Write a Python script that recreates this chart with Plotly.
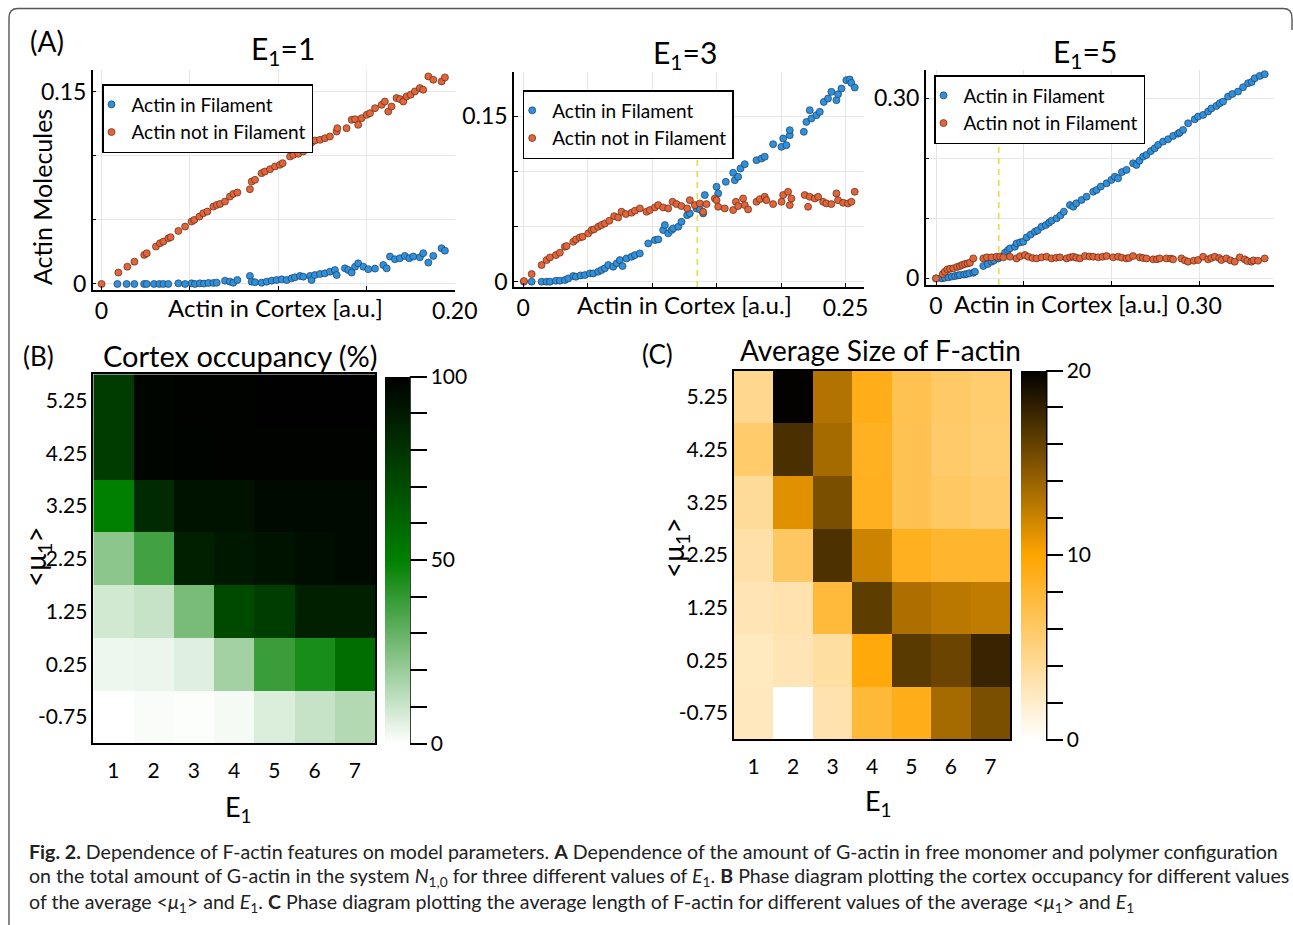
import plotly.graph_objects as go

W, H = 1293, 925
FONT = "Lato"

# ---------------- Panel A data ----------------
# E1 = 1
e1_fil_x = [0.0090, 0.0142, 0.0186, 0.0241, 0.0256, 0.0297, 0.0327, 0.0350, 0.0378, 0.0435, 0.0473, 0.0510,
            0.0529, 0.0557, 0.0580, 0.0605, 0.0633, 0.0652, 0.0699, 0.0727, 0.0746, 0.0769, 0.0840, 0.0850,
            0.0869, 0.0906, 0.0935, 0.0963, 0.0991, 0.1020, 0.1048, 0.1076, 0.1095, 0.1123, 0.1142, 0.1180,
            0.1189, 0.1208, 0.1237, 0.1265, 0.1293, 0.1321, 0.1331, 0.1378, 0.1397, 0.1416, 0.1435, 0.1453,
            0.1482, 0.1510, 0.1548, 0.1595, 0.1614, 0.1633, 0.1661, 0.1689, 0.1717, 0.1742, 0.1765, 0.1802,
            0.1821, 0.1850, 0.1878, 0.1925, 0.1944]
e1_fil_y = [0.0000, 0.0000, 0.0000, 0.0000, 0.0000, 0.0000, 0.0000, 0.0000, 0.0000, 0.0005, 0.0000, 0.0005,
            0.0000, 0.0005, 0.0003, 0.0008, 0.0008, 0.0010, 0.0026, 0.0018, 0.0010, 0.0031, 0.0063, 0.0018,
            0.0013, 0.0010, 0.0018, 0.0026, 0.0031, 0.0036, 0.0031, 0.0044, 0.0052, 0.0063, 0.0057, 0.0063,
            0.0031, 0.0070, 0.0078, 0.0083, 0.0096, 0.0109, 0.0070, 0.0122, 0.0109, 0.0089, 0.0135, 0.0161,
            0.0135, 0.0115, 0.0120, 0.0148, 0.0122, 0.0214, 0.0193, 0.0201, 0.0219, 0.0201, 0.0214, 0.0208,
            0.0240, 0.0167, 0.0219, 0.0279, 0.0260]
e1_free_x = [0.0000, 0.0095, 0.0146, 0.0186, 0.0242, 0.0256, 0.0308, 0.0331, 0.0350, 0.0378, 0.0391, 0.0435,
             0.0473, 0.0510, 0.0525, 0.0554, 0.0576, 0.0599, 0.0633, 0.0652, 0.0671, 0.0699, 0.0727, 0.0746,
             0.0769, 0.0840, 0.0850, 0.0869, 0.0906, 0.0925, 0.0954, 0.0982, 0.1010, 0.1025, 0.1067, 0.1086,
             0.1114, 0.1142, 0.1171, 0.1189, 0.1208, 0.1237, 0.1265, 0.1293, 0.1331, 0.1335, 0.1387, 0.1416,
             0.1435, 0.1453, 0.1472, 0.1501, 0.1520, 0.1548, 0.1586, 0.1604, 0.1623, 0.1642, 0.1670, 0.1689,
             0.1708, 0.1727, 0.1750, 0.1774, 0.1802, 0.1821, 0.1850, 0.1878, 0.1925, 0.1944]
e1_free_y = [0.0000, 0.0089, 0.0135, 0.0174, 0.0227, 0.0240, 0.0292, 0.0318, 0.0331, 0.0357, 0.0365, 0.0414,
             0.0448, 0.0487, 0.0500, 0.0526, 0.0552, 0.0565, 0.0604, 0.0617, 0.0625, 0.0643, 0.0682, 0.0703,
             0.0714, 0.0740, 0.0799, 0.0813, 0.0865, 0.0878, 0.0896, 0.0917, 0.0930, 0.0943, 0.0995, 0.1008,
             0.1016, 0.1034, 0.1060, 0.1104, 0.1120, 0.1125, 0.1138, 0.1151, 0.1190, 0.1216, 0.1216, 0.1281,
             0.1286, 0.1242, 0.1294, 0.1320, 0.1333, 0.1372, 0.1398, 0.1424, 0.1346, 0.1385, 0.1451, 0.1443,
             0.1424, 0.1464, 0.1477, 0.1503, 0.1529, 0.1516, 0.1620, 0.1594, 0.1581, 0.1612]

# E1 = 3
e3_fil_x = [0.0005, 0.0065, 0.0142, 0.0181, 0.0207, 0.0253, 0.0284, 0.0323, 0.0349, 0.0388, 0.0408, 0.0444,
            0.0478, 0.0517, 0.0543, 0.0581, 0.0607, 0.0633, 0.0659, 0.0698, 0.0724, 0.0749, 0.0770, 0.0801,
            0.0840, 0.0866, 0.0904, 0.0969, 0.1021, 0.1047, 0.1085, 0.1098, 0.1124, 0.1150, 0.1163, 0.1202,
            0.1227, 0.1271, 0.1292, 0.1344, 0.1370, 0.1395, 0.1408, 0.1499, 0.1512, 0.1571, 0.1628, 0.1641,
            0.1667, 0.1685, 0.1718, 0.1809, 0.1848, 0.1873, 0.1938, 0.2003, 0.2016, 0.2041, 0.2067, 0.2067,
            0.2176, 0.2196, 0.2222, 0.2235, 0.2274, 0.2300, 0.2331, 0.2364, 0.2390, 0.2429, 0.2442, 0.2468,
            0.2506, 0.2532, 0.2545, 0.2571]
e3_fil_y = [0.0000, 0.0000, 0.0000, 0.0000, 0.0000, 0.0009, 0.0009, 0.0015, 0.0030, 0.0051, 0.0045, 0.0057,
            0.0060, 0.0075, 0.0075, 0.0091, 0.0106, 0.0121, 0.0151, 0.0136, 0.0166, 0.0196, 0.0142, 0.0211,
            0.0226, 0.0241, 0.0256, 0.0347, 0.0377, 0.0383, 0.0468, 0.0513, 0.0438, 0.0468, 0.0483, 0.0498,
            0.0543, 0.0603, 0.0619, 0.0664, 0.0655, 0.0619, 0.0785, 0.0860, 0.0800, 0.0905, 0.0987, 0.0920,
            0.0951, 0.1026, 0.1065, 0.1101, 0.1116, 0.1132, 0.1246, 0.1222, 0.1298, 0.1237, 0.1328, 0.1373,
            0.1358, 0.1448, 0.1554, 0.1479, 0.1509, 0.1539, 0.1629, 0.1660, 0.1720, 0.1645, 0.1699, 0.1750,
            0.1826, 0.1832, 0.1801, 0.1759]
e3_free_x = [0.0005, 0.0065, 0.0142, 0.0181, 0.0207, 0.0253, 0.0284, 0.0323, 0.0336, 0.0388, 0.0408, 0.0439,
             0.0460, 0.0504, 0.0530, 0.0548, 0.0581, 0.0607, 0.0633, 0.0667, 0.0705, 0.0736, 0.0762, 0.0796,
             0.0840, 0.0866, 0.0904, 0.0956, 0.0982, 0.1021, 0.1047, 0.1085, 0.1124, 0.1158, 0.1189, 0.1227,
             0.1271, 0.1292, 0.1331, 0.1370, 0.1395, 0.1421, 0.1486, 0.1499, 0.1512, 0.1563, 0.1628, 0.1649,
             0.1667, 0.1705, 0.1718, 0.1744, 0.1809, 0.1835, 0.1873, 0.1886, 0.1938, 0.2003, 0.2016, 0.2054,
             0.2067, 0.2080, 0.2183, 0.2209, 0.2222, 0.2261, 0.2287, 0.2326, 0.2351, 0.2390, 0.2429, 0.2442,
             0.2481, 0.2519, 0.2545, 0.2571]
e3_free_y = [0.0006, 0.0069, 0.0151, 0.0196, 0.0220, 0.0241, 0.0263, 0.0317, 0.0323, 0.0362, 0.0383, 0.0401,
             0.0407, 0.0438, 0.0468, 0.0474, 0.0498, 0.0513, 0.0528, 0.0552, 0.0594, 0.0582, 0.0634, 0.0613,
             0.0625, 0.0643, 0.0664, 0.0634, 0.0649, 0.0673, 0.0694, 0.0673, 0.0664, 0.0724, 0.0703, 0.0685,
             0.0664, 0.0739, 0.0694, 0.0709, 0.0634, 0.0703, 0.0754, 0.0739, 0.0679, 0.0664, 0.0649, 0.0724,
             0.0685, 0.0754, 0.0694, 0.0655, 0.0724, 0.0748, 0.0769, 0.0739, 0.0703, 0.0724, 0.0785, 0.0815,
             0.0694, 0.0754, 0.0785, 0.0679, 0.0769, 0.0754, 0.0769, 0.0724, 0.0709, 0.0703, 0.0800, 0.0739,
             0.0715, 0.0709, 0.0724, 0.0815]
e3_threshold_x = 0.135
e3_threshold_top = 0.126

# E1 = 5
e5_fil_x = [0.0000, 0.0065, 0.0100, 0.0141, 0.0180, 0.0217, 0.0250, 0.0273, 0.0320, 0.0349, 0.0380, 0.0425,
            0.0444, 0.0539, 0.0590, 0.0634, 0.0660, 0.0710, 0.0786, 0.0820, 0.0843, 0.0900, 0.0919, 0.0960,
            0.0995, 0.1033, 0.1080, 0.1128, 0.1160, 0.1204, 0.1253, 0.1290, 0.1318, 0.1375, 0.1420, 0.1458,
            0.1527, 0.1565, 0.1600, 0.1660, 0.1717, 0.1793, 0.1831, 0.1880, 0.1945, 0.2000, 0.2039, 0.2077,
            0.2120, 0.2172, 0.2248, 0.2286, 0.2320, 0.2362, 0.2400, 0.2450, 0.2495, 0.2533, 0.2590, 0.2647,
            0.2704, 0.2760, 0.2780, 0.2818, 0.2875, 0.2950, 0.2989, 0.3046, 0.3103, 0.3140, 0.3198, 0.3236,
            0.3274, 0.3331, 0.3380, 0.3445, 0.3502, 0.3559, 0.3600, 0.3635, 0.3692, 0.3749]
e5_fil_y = [0.0000, 0.0000, 0.0010, 0.0017, 0.0030, 0.0039, 0.0050, 0.0056, 0.0065, 0.0072, 0.0085, 0.0094,
            0.0111, 0.0206, 0.0240, 0.0278, 0.0300, 0.0333, 0.0428, 0.0470, 0.0500, 0.0528, 0.0583, 0.0600,
            0.0611, 0.0683, 0.0730, 0.0778, 0.0800, 0.0861, 0.0889, 0.0930, 0.0961, 0.1000, 0.1050, 0.1111,
            0.1222, 0.1194, 0.1250, 0.1306, 0.1361, 0.1444, 0.1472, 0.1530, 0.1583, 0.1640, 0.1694, 0.1667,
            0.1770, 0.1806, 0.1917, 0.1889, 0.1960, 0.2028, 0.2056, 0.2120, 0.2167, 0.2222, 0.2278, 0.2317,
            0.2372, 0.2410, 0.2428, 0.2472, 0.2583, 0.2650, 0.2694, 0.2722, 0.2778, 0.2830, 0.2872, 0.2917,
            0.2944, 0.3028, 0.3070, 0.3111, 0.3183, 0.3250, 0.3270, 0.3333, 0.3372, 0.3400]
e5_free_x = [0.0000, 0.0076, 0.0100, 0.0129, 0.0160, 0.0197, 0.0240, 0.0273, 0.0300, 0.0330, 0.0360, 0.0387,
             0.0425, 0.0539, 0.0580, 0.0634, 0.0691, 0.0730, 0.0767, 0.0843, 0.0919, 0.0960, 0.1014, 0.1052,
             0.1100, 0.1147, 0.1204, 0.1261, 0.1318, 0.1370, 0.1413, 0.1489, 0.1530, 0.1565, 0.1600, 0.1641,
             0.1698, 0.1750, 0.1793, 0.1850, 0.1900, 0.1945, 0.2020, 0.2077, 0.2120, 0.2172, 0.2200, 0.2248,
             0.2324, 0.2360, 0.2400, 0.2476, 0.2520, 0.2552, 0.2628, 0.2680, 0.2704, 0.2799, 0.2840, 0.2875,
             0.2940, 0.2989, 0.3046, 0.3103, 0.3140, 0.3179, 0.3230, 0.3255, 0.3312, 0.3360, 0.3407, 0.3464,
             0.3521, 0.3550, 0.3597, 0.3620, 0.3673, 0.3749]
e5_free_y = [0.0000, 0.0072, 0.0110, 0.0150, 0.0160, 0.0167, 0.0190, 0.0206, 0.0225, 0.0239, 0.0250, 0.0261,
             0.0333, 0.0333, 0.0350, 0.0350, 0.0361, 0.0365, 0.0350, 0.0361, 0.0333, 0.0370, 0.0389, 0.0361,
             0.0340, 0.0333, 0.0350, 0.0361, 0.0333, 0.0345, 0.0350, 0.0333, 0.0350, 0.0361, 0.0345, 0.0333,
             0.0372, 0.0365, 0.0361, 0.0350, 0.0360, 0.0372, 0.0350, 0.0361, 0.0345, 0.0333, 0.0340, 0.0372,
             0.0350, 0.0340, 0.0333, 0.0317, 0.0320, 0.0333, 0.0333, 0.0330, 0.0317, 0.0333, 0.0300, 0.0278,
             0.0295, 0.0306, 0.0361, 0.0317, 0.0340, 0.0361, 0.0340, 0.0306, 0.0333, 0.0300, 0.0278, 0.0350,
             0.0317, 0.0290, 0.0278, 0.0300, 0.0294, 0.0333]
e5_threshold_x = 0.0715
e5_threshold_top = 0.247

# ---------------- Panels B and C data ----------------
E1_values = [1, 2, 3, 4, 5, 6, 7]
mu_values = [-0.75, 0.25, 1.25, 2.25, 3.25, 4.25, 5.25]
# rows follow mu_values (bottom to top), columns follow E1_values
occupancy = [
    [0.0, 1.0, 0.5, 2.0, 7.0, 11.0, 15.0],
    [3.3, 3.5, 6.0, 18.0, 38.6, 45.0, 57.0],
    [9.0, 11.0, 26.5, 71.0, 76.0, 87.5, 87.5],
    [22.5, 37.0, 87.0, 90.6, 93.0, 94.5, 96.0],
    [50.0, 83.6, 93.0, 93.0, 96.0, 96.0, 96.0],
    [77.0, 98.0, 98.5, 99.0, 99.0, 99.0, 99.0],
    [77.0, 98.0, 99.0, 99.0, 99.5, 99.5, 99.5],
]
avg_size = [
    [2.6, 0.0, 3.2, 7.8, 9.0, 13.5, 15.2],
    [2.5, 2.9, 3.7, 9.6, 16.5, 15.8, 17.8],
    [2.9, 3.2, 7.7, 16.3, 13.2, 12.7, 12.5],
    [3.4, 6.2, 17.0, 12.0, 8.8, 8.2, 8.2],
    [4.0, 11.2, 15.2, 8.8, 6.8, 6.1, 5.8],
    [5.8, 17.1, 13.5, 8.7, 6.8, 5.9, 5.5],
    [4.4, 19.9, 13.0, 9.0, 6.9, 6.0, 5.7],
]
occ_label_ticks = [0, 50, 100]
occ_all_ticks = [0, 10, 20, 30, 40, 50, 60, 70, 80, 90, 100]
size_label_ticks = [0, 10, 20]
size_all_ticks = [0, 2, 4, 6, 8, 10, 12, 14, 16, 18, 20]

BLUE = "#2f90dc"
BLUE_EDGE = "#1d3c5c"
ORANGE = "#e2653a"
ORANGE_EDGE = "#5c2a18"
YELLOW = "#e3e04a"
GREEN_SCALE = [[0, "#ffffff"], [0.5, "#008000"], [1, "#000000"]]
ORANGE_SCALE = [[0, "#ffffff"], [0.5, "#ffa500"], [1, "#000000"]]


def px_x(p):
    return p / W


def px_y(p):
    return 1 - p / H


fig = go.Figure()

panels = [
    ("", e1_fil_x, e1_fil_y, e1_free_x, e1_free_y, "legend", None),
    ("2", e3_fil_x, e3_fil_y, e3_free_x, e3_free_y, "legend2", (e3_threshold_x, e3_threshold_top)),
    ("3", e5_fil_x, e5_fil_y, e5_free_x, e5_free_y, "legend3", (e5_threshold_x, e5_threshold_top)),
]
y_bottoms = {"": -0.0047, "2": -0.0048, "3": -0.011}
for suf, fx, fy, nx, ny, leg, thr in panels:
    if thr is not None:
        fig.add_trace(go.Scatter(x=[thr[0], thr[0]], y=[y_bottoms[suf], thr[1]], mode="lines",
                                 line=dict(color=YELLOW, width=1.7, dash="6px,5px"),
                                 xaxis="x" + suf, yaxis="y" + suf, showlegend=False, hoverinfo="skip"))
    fig.add_trace(go.Scatter(x=fx, y=fy, mode="markers", name="Actin in Filament",
                             marker=dict(color=BLUE, size=7, line=dict(color=BLUE_EDGE, width=0.7)),
                             xaxis="x" + suf, yaxis="y" + suf, legend=leg))
    fig.add_trace(go.Scatter(x=nx, y=ny, mode="markers", name="Actin not in Filament",
                             marker=dict(color=ORANGE, size=7, line=dict(color=ORANGE_EDGE, width=0.7)),
                             xaxis="x" + suf, yaxis="y" + suf, legend=leg))

cb_common = dict(thickness=25, thicknessmode="pixels", lenmode="fraction", xanchor="left", yanchor="middle",
                 xpad=0, ypad=0, outlinewidth=0, tickmode="array", ticks="outside", ticklen=17,
                 tickwidth=1.5, tickcolor="black", tickfont=dict(family=FONT, size=21, color="black"))

cbB = dict(x=px_x(385), y=px_y(560), len=(743.3 - 376.7) / H)
cbC = dict(x=px_x(1021), y=px_y(555), len=(739.3 - 370.7) / H)

fig.add_trace(go.Heatmap(x=E1_values, y=mu_values, z=occupancy, zmin=0, zmax=100, colorscale=GREEN_SCALE,
                         xaxis="x4", yaxis="y4",
                         colorbar=dict(tickvals=occ_label_ticks, **cbB, **cb_common)))
# tick marks every 10 on the same colour bar (no labels)
fig.add_trace(go.Scatter(x=[None], y=[None], mode="markers", xaxis="x4", yaxis="y4", showlegend=False,
                         hoverinfo="skip",
                         marker=dict(color=[0], cmin=0, cmax=100, colorscale=GREEN_SCALE, showscale=True,
                                     colorbar=dict(tickvals=occ_all_ticks, showticklabels=False,
                                                   **cbB, **cb_common))))
fig.add_trace(go.Heatmap(x=E1_values, y=mu_values, z=avg_size, zmin=0, zmax=20, colorscale=ORANGE_SCALE,
                         xaxis="x5", yaxis="y5",
                         colorbar=dict(tickvals=size_label_ticks, **cbC, **cb_common)))
fig.add_trace(go.Scatter(x=[None], y=[None], mode="markers", xaxis="x5", yaxis="y5", showlegend=False,
                         hoverinfo="skip",
                         marker=dict(color=[0], cmin=0, cmax=20, colorscale=ORANGE_SCALE, showscale=True,
                                     colorbar=dict(tickvals=size_all_ticks, showticklabels=False,
                                                   **cbC, **cb_common))))

tickfont = dict(family=FONT, size=23, color="black")
GRID = "#e6e6e6"
scatter_axis = dict(showline=True, linecolor="black", linewidth=1.5, ticks="inside", ticklen=4,
                    tickcolor="black", showgrid=True, gridcolor=GRID, gridwidth=1, zeroline=False,
                    tickmode="array", tickfont=tickfont, mirror=False, automargin=False)


def minor(vals):
    return dict(tickmode="array", tickvals=vals, ticks="inside", ticklen=4, tickcolor="black",
                showgrid=True, gridcolor=GRID, gridwidth=1)


layout = dict(
    width=W, height=H, margin=dict(l=0, r=0, t=0, b=0, pad=0, autoexpand=False),
    paper_bgcolor="white", plot_bgcolor="white",
    font=dict(family=FONT, color="black"),
    xaxis=dict(domain=[px_x(92.7), px_x(455)], range=[-0.005, 0.2001], anchor="y",
               tickvals=[0, 0.2], ticktext=["0", "0.20"], minor=minor([0.05, 0.1, 0.15]), **scatter_axis),
    yaxis=dict(domain=[px_y(290), px_y(70)], range=[-0.0047, 0.167], anchor="x",
               tickvals=[0, 0.15], ticktext=["0", "0.15"], minor=minor([0.05, 0.1]), **scatter_axis),
    xaxis2=dict(domain=[px_x(514), px_x(864)], range=[-0.0072, 0.2643], anchor="y2",
                tickvals=[0, 0.25], ticktext=["0", "0.25"], minor=minor([0.05, 0.1, 0.15, 0.2]),
                **scatter_axis),
    yaxis2=dict(domain=[px_y(287), px_y(72)], range=[-0.0048, 0.19], anchor="x2",
                tickvals=[0, 0.15], ticktext=["0", "0.15"], minor=minor([0.05, 0.1]), **scatter_axis),
    xaxis3=dict(domain=[px_x(925.7), px_x(1274)], range=[-0.0118, 0.3855], anchor="y3",
                tickvals=[0, 0.3], ticktext=["0", "0.30"], minor=minor([0.1, 0.2]), **scatter_axis),
    yaxis3=dict(domain=[px_y(285), px_y(70)], range=[-0.011, 0.347], anchor="x3",
                tickvals=[0, 0.3], ticktext=["0", "0.30"], minor=minor([0.1, 0.2]), **scatter_axis),
)

heat_axis = dict(showline=True, mirror=True, linecolor="black", linewidth=1.5, ticks="", showgrid=False,
                 zeroline=False, tickmode="array", tickfont=dict(family=FONT, size=21, color="black"),
                 automargin=False)
layout["xaxis4"] = dict(domain=[px_x(93.3), px_x(375)], range=[0.5, 7.5], anchor="y4",
                        tickvals=E1_values, ticklabelstandoff=8, **heat_axis)
layout["yaxis4"] = dict(domain=[px_y(743.3), px_y(374.3)], range=[-1.25, 5.75], anchor="x4",
                        tickvals=mu_values, ticktext=[str(v) for v in mu_values], **heat_axis)
layout["xaxis5"] = dict(domain=[px_x(734), px_x(1010)], range=[0.5, 7.5], anchor="y5",
                        tickvals=E1_values, ticklabelstandoff=8, **heat_axis)
layout["yaxis5"] = dict(domain=[px_y(739.3), px_y(370.7)], range=[-1.25, 5.75], anchor="x5",
                        tickvals=mu_values, ticktext=[str(v) for v in mu_values], **heat_axis)

legend_style = dict(xanchor="left", yanchor="top", bgcolor="white", bordercolor="black", borderwidth=1.5,
                    font=dict(family=FONT, size=19, color="black"), tracegroupgap=0, itemwidth=30,
                    indentation=-12)
layout["legend"] = dict(x=px_x(102), y=px_y(84), **legend_style)
layout["legend2"] = dict(x=px_x(522.7), y=px_y(90), **legend_style)
layout["legend3"] = dict(x=px_x(934), y=px_y(75), **legend_style)
fig.update_layout(**layout)


def note(text, x, y, size, angle=0, xanchor="center", yanchor="middle", color="black"):
    fig.add_annotation(text=text, x=px_x(x), y=px_y(y), xref="paper", yref="paper", showarrow=False,
                       xanchor=xanchor, yanchor=yanchor, textangle=angle,
                       font=dict(family=FONT, size=size, color=color))


note("(A)", 47, 41, 28)
note("E<sub>1</sub>=1", 283, 50, 30)
note("E<sub>1</sub>=3", 685, 54, 30)
note("E<sub>1</sub>=5", 1085, 53, 30)
note("Actin Molecules", 42, 197, 25, angle=-90)
note("Actin in Cortex [a.u.]", 275, 308, 24)
note("Actin in Cortex [a.u.]", 684, 305, 24)
note("Actin in Cortex [a.u.]", 1061, 303, 24)

note("(B)", 38, 356, 26)
note("Cortex occupancy (%)", 240, 355, 29)
note("E<sub>1</sub>", 238, 808, 27)
note("&lt;μ<sub>1</sub>&gt;", 37, 557, 28, angle=-90)

note("(C)", 657, 354, 26)
note("Average Size of F-actin", 880, 350, 28)
note("E<sub>1</sub>", 878, 802, 27)
note("&lt;μ<sub>1</sub>&gt;", 675, 548, 28, angle=-90)

cap1 = ("<b>Fig. 2.</b> Dependence of F-actin features on model parameters. <b>A</b> Dependence of the amount "
        "of G-actin in free monomer and polymer configuration")
cap2 = ("on the total amount of G-actin in the system <i>N</i><sub>1,0</sub> for three different values of "
        "<i>E</i><sub>1</sub>. <b>B</b> Phase diagram plotting the cortex occupancy for different values")
cap3 = ("of the average &lt;<i>μ</i><sub>1</sub>&gt; and <i>E</i><sub>1</sub>. <b>C</b> Phase diagram plotting "
        "the average length of F-actin for different values of the average &lt;<i>μ</i><sub>1</sub>&gt; and "
        "<i>E</i><sub>1</sub>")
note(cap1, 27, 851, 19.6, xanchor="left", color="#222222")
note(cap2, 27, 877, 19.6, xanchor="left", color="#222222")
note(cap3, 27, 903, 19.6, xanchor="left", color="#222222")

# colorbar axis lines
for xline, y0, y1 in [(410, 376.7, 743.3), (1046.7, 370.7, 739.3)]:
    fig.add_shape(type="line", xref="paper", yref="paper", x0=px_x(xline), x1=px_x(xline),
                  y0=px_y(y0), y1=px_y(y1), line=dict(color="black", width=1.5))

# outer frame
r = 9
path = (f"M {px_x(9)},{px_y(930)} L {px_x(9)},{px_y(8.5 + r)} "
        f"Q {px_x(9)},{px_y(8.5)} {px_x(9 + r)},{px_y(8.5)} "
        f"L {px_x(1292 - r)},{px_y(8.5)} Q {px_x(1292)},{px_y(8.5)} {px_x(1292)},{px_y(8.5 + r)} "
        f"L {px_x(1292)},{px_y(30)}")
fig.add_shape(type="path", xref="paper", yref="paper", path=path, line=dict(color="#555555", width=1.4))

fig.write_html("out.html")
